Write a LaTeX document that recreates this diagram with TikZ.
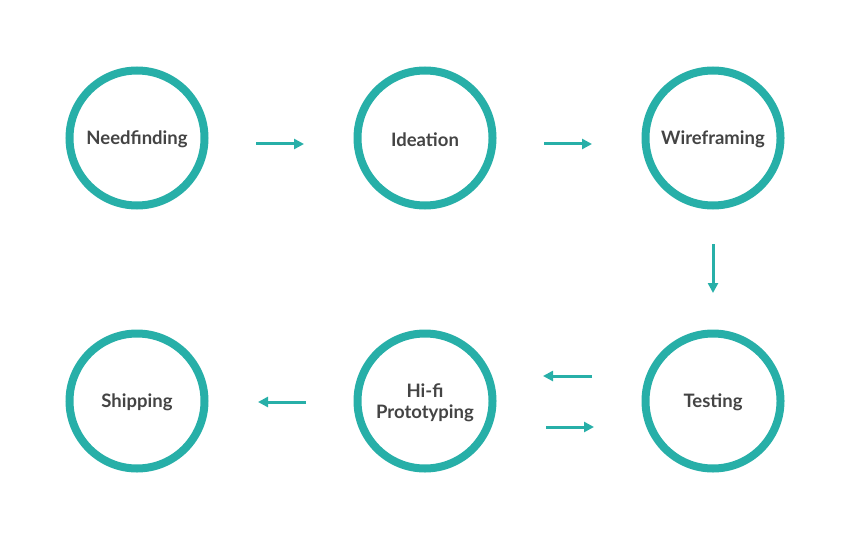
\documentclass[tikz,border=0pt]{standalone}
\usepackage{fontspec}
\setmainfont{Lato}
\usetikzlibrary{arrows.meta}
\definecolor{teal1}{HTML}{27AFA8}
\definecolor{txt}{HTML}{444444}
\newcommand{\lowr}[1]{\raisebox{-1.5pt}[\height][\depth]{#1}}
\tikzset{
  stage/.style={circle, draw=teal1, line width=8pt, minimum size=135pt, inner sep=0pt,
    font=\bfseries\fontsize{18.5}{21}\selectfont, text=txt, align=center},
  flow/.style={draw=teal1, line width=3pt, -{Triangle[length=10pt,width=10pt]}}
}
\begin{document}
\begin{tikzpicture}[x=1pt,y=-1pt]
\useasboundingbox (0,0) rectangle (850,540);
\node[stage] (need) at (137,138) {\lowr{Needfinding}};
\node[stage] (idea) at (425,138) {\lowr{Ideation}};
\node[stage] (wire) at (713,138) {\lowr{Wireframing}};
\node[stage] (ship) at (137,401) {\lowr{Shipping}};
\node[stage] (hifi) at (425,401) {\lowr{Hi-fi}\\\lowr{Prototyping}};
\node[stage] (test) at (713,401) {\lowr{Testing}};
\coordinate (a1s) at (256,144); \coordinate (a1e) at (304,144);
\coordinate (a2s) at (544,144); \coordinate (a2e) at (592,144);
\coordinate (a3s) at (713,244); \coordinate (a3e) at (713,293);
\coordinate (a4s) at (592,376); \coordinate (a4e) at (543,376);
\coordinate (a5s) at (546,427); \coordinate (a5e) at (594,427);
\coordinate (a6s) at (306,402); \coordinate (a6e) at (258,402);
\draw[flow] (a1s) -- (a1e);
\draw[flow] (a2s) -- (a2e);
\draw[flow] (a3s) -- (a3e);
\draw[flow] (a4s) -- (a4e);
\draw[flow] (a5s) -- (a5e);
\draw[flow] (a6s) -- (a6e);
\end{tikzpicture}
\end{document}
